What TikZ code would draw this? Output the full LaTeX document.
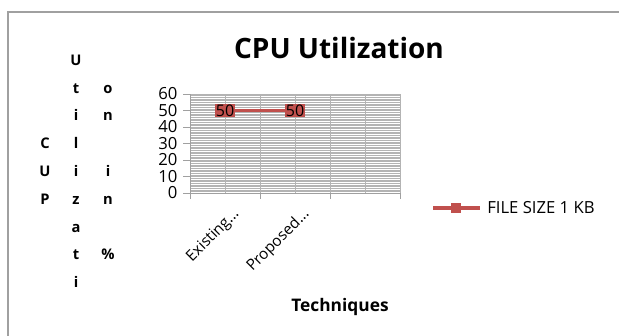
\documentclass[tikz,border=0pt]{standalone}
\usepackage{fontspec}
\setmainfont{Open Sans}
\definecolor{serieskey}{HTML}{C0504D}
\definecolor{gridgray}{HTML}{A0A0A0}
\begin{document}
\begin{tikzpicture}[
    x=0.75pt, y=-0.75pt,
    gridline/.style={draw=gridgray!80, line width=0.3pt},
    axisline/.style={draw=gridgray, line width=0.7pt},
    ticklabel/.style={font=\fontsize{12.5}{12.5}\selectfont, inner sep=1pt},
    stackletter/.style={font=\fontsize{11}{11}\bfseries, inner sep=0pt, anchor=base},
    datapoint/.style={fill=serieskey, inner sep=0.3pt, font=\fontsize{12}{12}\selectfont},
    catlabel/.style={font=\fontsize{11.5}{12}\selectfont, rotate=45, anchor=east, inner sep=1pt}
  ]
  \useasboundingbox (0,0) rectangle (619,336);
  \begin{scope}
    \clip (0,0) rectangle (619,336);
    \draw[gridgray, line width=1.5pt] (8,12) rectangle (650,360);
  \end{scope}

  % title
  \node[font=\fontsize{21}{22}\bfseries] (title) at (339,48) {CPU Utilization};

  % grid
  \foreach \v in {1,...,60}
    \draw[gridline] (190,{193-\v*1.65}) -- (400,{193-\v*1.65});
  \foreach \x in {225,260,...,400}
    \draw[gridline] (\x,94) -- (\x,193);

  % axes
  \draw[axisline] (190,94) -- (190,193);
  \draw[axisline] (183,193) -- (400,193);
  \foreach \v in {0,10,...,60} {
    \draw[axisline] (183,{193-\v*1.65}) -- (190,{193-\v*1.65});
    \node[ticklabel, anchor=east] (y\v) at (179,{193-\v*1.65}) {\v};
  }
  \foreach \x in {190,260,330,400}
    \draw[axisline] (\x,193) -- (\x,199);

  % category labels
  \node[catlabel] (existinglbl) at (238,211) {Existing...};
  \node[catlabel] (proposedlbl) at (308,211) {Proposed...};
  \node[font=\fontsize{13}{13}\bfseries] (xtitle) at (340,307) {Techniques};

  % y title, stacked letters
  \foreach \c/\yy [count=\i] in {C/143,U/171,P/199}
    \node[stackletter] (ca\i) at (45,\yy+5) {\c};
  \foreach \c/\yy [count=\i] in {U/60,t/88,i/115,l/143,i/171,z/199,a/227,t/254,i/282}
    \node[stackletter] (cb\i) at (76,\yy+5) {\c};
  \foreach \c/\yy [count=\i] in {o/88,n/115,i/171,n/199,\%/254}
    \node[stackletter] (cc\i) at (108,\yy+5) {\c};

  % series
  \node[datapoint] (existing) at (225,{193-50*1.65}) {50};
  \node[datapoint] (proposed) at (295,{193-50*1.65}) {50};
  \draw[serieskey, line width=2.2pt] (existing) -- (proposed);

  % legend
  \coordinate (keyA) at (433,208);
  \coordinate (keyB) at (480,208);
  \draw[serieskey, line width=2.4pt] (keyA) -- (keyB);
  \node[fill=serieskey, minimum size=7pt, inner sep=0pt] (keymark) at (456,208) {};
  \node[font=\fontsize{12.5}{12.5}\selectfont, anchor=west, inner sep=0pt] (keytext) at (487,208) {FILE SIZE 1 KB};
\end{tikzpicture}
\end{document}
